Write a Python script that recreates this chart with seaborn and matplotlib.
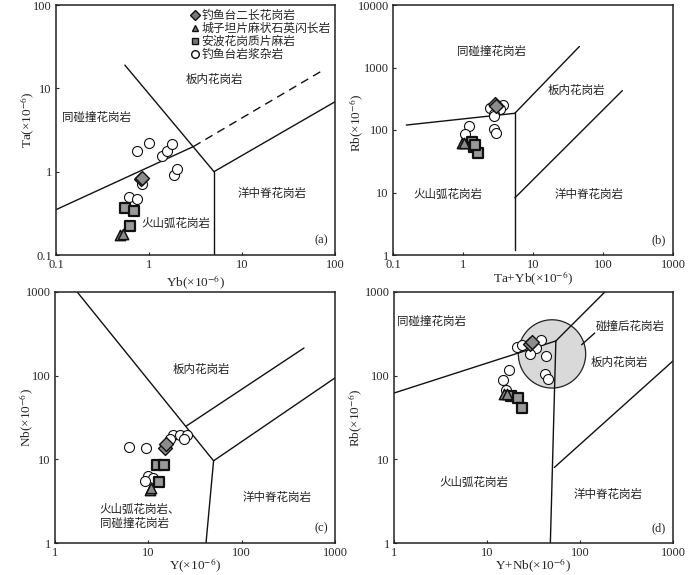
import numpy as np
import pandas as pd
import matplotlib
matplotlib.use("Agg")
import matplotlib.pyplot as plt
import matplotlib.ticker as mticker
from matplotlib.lines import Line2D
import seaborn as sns

sns.set_style("white")
plt.rcParams['font.family'] = ['Liberation Serif', 'Noto Sans CJK SC']
plt.rcParams['mathtext.fontset'] = 'stix'

CJK = ['Noto Sans CJK SC', 'DejaVu Sans']

groups = ['钓鱼台二长花岗岩', '城子坦片麻状石英闪长岩', '安波花岗质片麻岩', '钓鱼台岩浆杂岩']
markers = {'钓鱼台二长花岗岩': 'D', '城子坦片麻状石英闪长岩': '^',
           '安波花岗质片麻岩': 's', '钓鱼台岩浆杂岩': 'o'}
fills = {'钓鱼台二长花岗岩': '#8c8c8c', '城子坦片麻状石英闪长岩': '#8c8c8c',
         '安波花岗质片麻岩': '#9a9a9a', '钓鱼台岩浆杂岩': 'white'}
edge_w = {'钓鱼台二长花岗岩': 1.0, '城子坦片麻状石英闪长岩': 1.1,
          '安波花岗质片麻岩': 1.6, '钓鱼台岩浆杂岩': 0.8}
sizes = {'钓鱼台二长花岗岩': 50, '城子坦片麻状石英闪长岩': 55,
         '安波花岗质片麻岩': 48, '钓鱼台岩浆杂岩': 52}

# ---- (a) Ta vs Yb ----
a_circ_yb = [0.74, 1.0, 1.38, 1.57, 1.76, 1.85, 2.01, 0.84, 0.61, 0.74]
a_circ_ta = [1.79, 2.19, 1.54, 1.79, 2.13, 0.91, 1.08, 0.71, 0.50, 0.47]
a_dia_yb = [0.83, 0.85]
a_dia_ta = [0.81, 0.84]
a_tri_yb = [0.49, 0.52]
a_tri_ta = [0.175, 0.18]
a_sq_yb = [0.55, 0.69, 0.63]
a_sq_ta = [0.37, 0.34, 0.22]

# ---- (b) Rb vs Ta+Yb ----
b_circ_x = [2.4, 3.73, 3.4, 2.74, 2.74, 2.74, 2.99, 1.2, 1.08, 1.45]
b_circ_y = [227, 254, 215, 181, 170, 102, 90, 118, 87, 60]
b_dia_x = [2.9, 3.0]
b_dia_y = [258, 240]
b_tri_x = [0.97, 1.05]
b_tri_y = [62, 62]
b_sq_x = [1.33, 1.43, 1.66, 1.5]
b_sq_y = [63.5, 53, 43, 58]

# ---- (c) Nb vs Y ----
c_circ_y = [6.26, 9.36, 18.5, 21.8, 26.2, 24.3, 17.1, 10.0, 11.3, 9.2]
c_circ_nb = [13.9, 13.7, 19.4, 19.4, 19.4, 17.7, 17.7, 6.4, 6.0, 5.5]
c_dia_y = [15.0, 15.6]
c_dia_nb = [13.5, 15.2]
c_tri_y = [10.5, 10.8]
c_tri_nb = [4.3, 4.5]
c_sq_y = [12.3, 14.7, 13.0]
c_sq_nb = [8.6, 8.6, 5.3]

# ---- (d) Rb vs Y+Nb ----
d_circ_x = [20.8, 23.5, 37.9, 34.0, 28.9, 42.6, 41.9, 44.8, 17.3, 14.9, 16.0]
d_circ_y = [223, 234, 264, 213, 182, 170, 104, 91.6, 117, 89, 67.6]
d_dia_x = [28.9, 30.5]
d_dia_y = [238, 250]
d_tri_x = [15.3, 16.3]
d_tri_y = [60, 60]
d_sq_x = [17.9, 21.7, 23.9]
d_sq_y = [57, 53.7, 41.5]


def make_df(circ, dia, tri, sq):
    rows = []
    for g, (xs, ys) in zip(groups, [dia, tri, sq, circ]):
        for x, y in zip(xs, ys):
            rows.append({'x': x, 'y': y, 'group': g})
    return pd.DataFrame(rows)


df_a = make_df((a_circ_yb, a_circ_ta), (a_dia_yb, a_dia_ta), (a_tri_yb, a_tri_ta), (a_sq_yb, a_sq_ta))
df_b = make_df((b_circ_x, b_circ_y), (b_dia_x, b_dia_y), (b_tri_x, b_tri_y), (b_sq_x, b_sq_y))
df_c = make_df((c_circ_y, c_circ_nb), (c_dia_y, c_dia_nb), (c_tri_y, c_tri_nb), (c_sq_y, c_sq_nb))
df_d = make_df((d_circ_x, d_circ_y), (d_dia_x, d_dia_y), (d_tri_x, d_tri_y), (d_sq_x, d_sq_y))

# field boundaries (Pearce et al. 1984)
a_lines = [([0.1, 3.0], [0.35, 2.0], '-'), ([3.0, 73], [2.0, 16.3], '--'),
           ([0.55, 5], [19, 1.0], '-'), ([5, 5], [1.0, 0.1], '-'), ([5, 100], [1.0, 6.9], '-')]
b_lines = [([0.155, 5.5], [120, 185], '-'), ([5.5, 5.5], [185, 1.2], '-'),
           ([5.5, 46], [185, 2170], '-'), ([5.5, 189], [8.2, 427], '-')]
c_lines = [([1.73, 50], [1000, 9.6], '-'), ([50, 41.5], [9.6, 1], '-'),
           ([50, 1000], [9.6, 94], '-'), ([25.5, 465], [25, 214], '-')]
d_lines = [([1, 55], [62, 260], '-'), ([55, 185], [260, 1000], '-'),
           ([55, 48], [260, 1], '-'), ([53, 1000], [8.0, 150], '-'),
           ([144, 104], [323, 234], '-')]

a_labels = [(5.06, 12.8, '板内花岗岩'), (0.27, 4.5, '同碰撞花岗岩'),
            (20.9, 0.55, '洋中脊花岗岩'), (1.96, 0.24, '火山弧花岗岩')]
b_labels = [(2.54, 1820, '同碰撞花岗岩'), (41.6, 427, '板内花岗岩'),
            (0.61, 9.3, '火山弧花岗岩'), (63, 9.3, '洋中脊花岗岩')]
c_labels = [(37, 118, '板内花岗岩'), (237, 3.5, '洋中脊花岗岩'),
            (3.0, 2.08, '火山弧花岗岩、\n同碰撞花岗岩')]
d_labels = [(2.54, 445, '同碰撞花岗岩'), (343, 388, '碰撞后花岗岩'), (263, 145, '板内花岗岩'),
            (7.2, 5.3, '火山弧花岗岩'), (200, 3.8, '洋中脊花岗岩')]

fig = plt.figure(figsize=(7, 5.75), dpi=100)
W, H = 700, 575
boxes = [(56, 5, 279, 250), (393, 5, 280, 250), (55, 292, 280, 251), (394, 292, 279, 251)]
axes = [fig.add_axes([l / W, 1 - (t + h) / H, w / W, h / H]) for l, t, w, h in boxes]

specs = [
    (axes[0], df_a, a_lines, a_labels, (0.1, 100), (0.1, 100), 'Yb(×10$^{-6}$)', 'Ta(×10$^{-6}$)', '(a)',
     (-0.11, -0.10, 0.54)),
    (axes[1], df_b, b_lines, b_labels, (0.1, 1000), (1, 10000), 'Ta+Yb(×10$^{-6}$)', 'Rb(×10$^{-6}$)', '(b)',
     (-0.095, -0.13, 0.53)),
    (axes[2], df_c, c_lines, c_labels, (1, 1000), (1, 1000), 'Y(×10$^{-6}$)', 'Nb(×10$^{-6}$)', '(c)',
     (-0.092, -0.10, 0.50)),
    (axes[3], df_d, d_lines, d_labels, (1, 1000), (1, 1000), 'Y+Nb(×10$^{-6}$)', 'Rb(×10$^{-6}$)', '(d)',
     (-0.092, -0.136, 0.50)),
]

for ax, df, lines, labels, xlim, ylim, xl, yl, tag, lab_pos in specs:
    ax.set_xscale('log')
    ax.set_yscale('log')
    ax.set_xlim(*xlim)
    ax.set_ylim(*ylim)
    if tag == '(d)':
        # post-collision field circle
        t = np.linspace(0, 2 * np.pi, 200)
        cx = 10 ** (np.log10(50) + 0.362 * np.cos(t))
        cy = 10 ** (np.log10(182) + 0.408 * np.sin(t))
        ax.fill(cx, cy, facecolor='#d9d9d9', edgecolor='#222222', lw=0.9, zorder=1)
    for xs, ys, ls in lines:
        ax.plot(xs, ys, color='#111111', lw=1.0, ls=ls, dashes=(6, 4) if ls == '--' else (None, None), zorder=2)
    for g in ['钓鱼台岩浆杂岩', '安波花岗质片麻岩', '城子坦片麻状石英闪长岩', '钓鱼台二长花岗岩']:
        sub = df[df['group'] == g]
        sns.scatterplot(data=sub, x='x', y='y', ax=ax, marker=markers[g], color=fills[g],
                        edgecolor='#111111', linewidth=edge_w[g], s=sizes[g], zorder=3, legend=False)
    for x, y, txt in labels:
        ax.text(x, y, txt, family=CJK, fontsize=8.3, color='#222222',
                ha='left' if '\n' in txt else 'center', va='center', linespacing=1.05)
    ax.text(0.975, 0.035, tag, transform=ax.transAxes, ha='right', va='bottom', fontsize=9)
    ax.set_xlabel(xl, fontsize=9.5)
    ax.set_ylabel(yl, fontsize=9.5)
    ax.xaxis.set_label_coords(0.5, lab_pos[0])
    ax.yaxis.set_label_coords(lab_pos[1], lab_pos[2])
    ax.xaxis.label.set_va('center')
    ax.yaxis.label.set_va('center')
    ax.xaxis.set_major_locator(mticker.LogLocator(base=10, numticks=10))
    ax.yaxis.set_major_locator(mticker.LogLocator(base=10, numticks=10))
    ax.xaxis.set_minor_locator(mticker.NullLocator())
    ax.yaxis.set_minor_locator(mticker.NullLocator())
    fmt = mticker.FuncFormatter(lambda v, p: '{:g}'.format(v))
    ax.xaxis.set_major_formatter(fmt)
    ax.yaxis.set_major_formatter(fmt)
    ax.tick_params(which='major', direction='in', length=2.5, width=0.8, labelsize=9, pad=3,
                   bottom=True, left=True)
    for sp in ax.spines.values():
        sp.set_linewidth(1.1)
        sp.set_color('#222222')

# legend in panel (a)
handles = [Line2D([], [], ls='none', marker=markers[g], markersize=5 if markers[g] != 'o' else 5.5,
                  markerfacecolor=('white' if g == '钓鱼台岩浆杂岩' else '#777777'),
                  markeredgecolor='#111111', markeredgewidth=1.0) for g in groups]
leg = axes[0].legend(handles, groups, loc='upper right', bbox_to_anchor=(1.0, 1.0), frameon=False,
                     prop={'family': CJK, 'size': 8.5}, handletextpad=0.1, handlelength=1.0,
                     labelspacing=0.0, borderaxespad=0.15, borderpad=0.2)

fig.savefig('out.png', dpi=100)
